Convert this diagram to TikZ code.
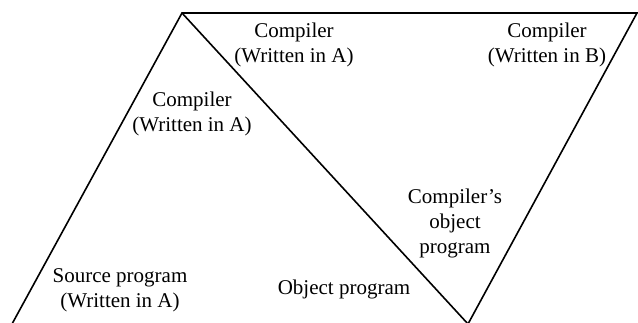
\documentclass[tikz,border=0pt]{standalone}
\usepackage{fontspec}
\setmainfont{Liberation Serif}
\begin{document}
\begin{tikzpicture}[x=1pt,y=-1pt,
  edge/.style={line width=1.6pt, line join=miter},
  lbl/.style={align=center, inner sep=0pt, font=\fontsize{21}{25}\selectfont}]
\useasboundingbox (0,0) rectangle (638,323);
\coordinate (bl) at (12,324);
\coordinate (tl) at (182,13);
\coordinate (tr) at (637,13);
\coordinate (bm) at (468,324);
\draw[edge] (bl) -- (tl) -- (tr) -- (bm) -- cycle;
\draw[edge] (tl) -- (bm);
\node[lbl] (ca1) at (294,45) {Compiler\\(Written in A)};
\node[lbl] (cb) at (547,45) {Compiler\\(Written in B)};
\node[lbl] (ca2) at (192,114) {Compiler\\(Written in A)};
\node[lbl] (src) at (120,290) {Source program\\(Written in A)};
\node[lbl] (obj) at (344,289) {Object program};
\node[lbl] (cobj) at (455,223) {Compiler's\\object\\program};
\end{tikzpicture}
\end{document}
